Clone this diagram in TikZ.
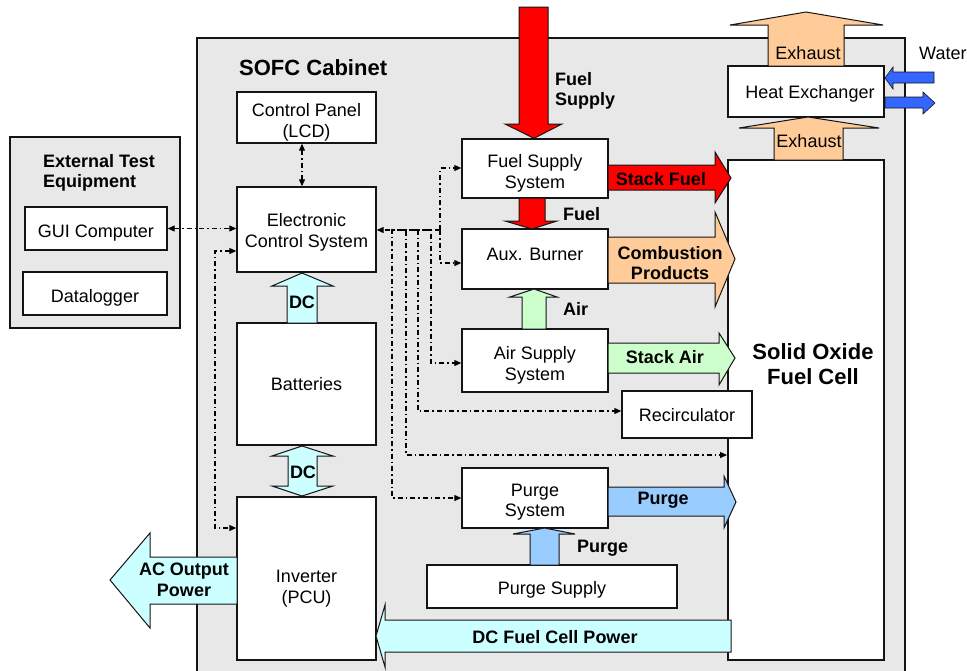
\documentclass[tikz,border=0pt]{standalone}
\usepackage{fontspec}
\setmainfont{Liberation Sans}
\usetikzlibrary{arrows.meta,calc}
\definecolor{cabgray}{RGB}{232,232,232}
\definecolor{fuelred}{RGB}{255,0,0}
\definecolor{peach}{RGB}{255,204,153}
\definecolor{lgreen}{RGB}{204,255,204}
\definecolor{lcyan}{RGB}{204,255,255}
\definecolor{purgeblue}{RGB}{153,204,255}
\definecolor{waterblue}{RGB}{51,102,255}
\definecolor{edge}{RGB}{20,20,20}
% push box text down (\dn) or up (\upby) by the given amount
\newcommand\dn[1]{\rule{0pt}{\dimexpr 13pt + #1 + #1\relax}}
\newcommand\upby[1]{\rule[-\dimexpr #1 + #1\relax]{0pt}{\dimexpr #1 + #1\relax}}
\tikzset{
  box/.style={draw=edge,line width=1.4pt,fill=white,inner sep=0pt,align=center,
    font=\fontsize{18}{20.5}\selectfont},
  panel/.style={draw=edge,line width=2.4pt,fill=cabgray,inner sep=0pt},
  blockarrow/.style={draw=edge,line width=1pt,line join=miter},
  lbl/.style={font=\fontsize{18}{20.5}\selectfont\bfseries,align=center,inner sep=0pt},
  plain/.style={font=\fontsize{18}{20.5}\selectfont,align=center,inner sep=0pt},
  ctrl/.style={draw=black,line width=1.1pt,dash pattern=on 5pt off 3pt on 1.5pt off 3pt,
    -{Triangle[length=7pt,width=6pt]}},
  ctrlboth/.style={ctrl,{Triangle[length=7pt,width=6pt]}-{Triangle[length=7pt,width=6pt]}}
}
\begin{document}
\begin{tikzpicture}[x=1pt,y=-1pt]
\useasboundingbox (0,0) rectangle (967,670);
\clip (0,0) rectangle (967,670);
% panels
\node[panel,minimum width=170pt,minimum height=191pt] (ext) at (95,232.5) {};
\node[panel,minimum width=708pt,minimum height=647pt] (cab) at (551,361.5) {};
\node[lbl,anchor=west,align=left] (extt) at (43,173) {External Test\\Equipment};
\node[lbl,anchor=west,font=\fontsize{22}{24}\selectfont\bfseries] (cabt) at (239,68) {SOFC Cabinet};
% boxes
\node[box,minimum width=142pt,minimum height=43pt] (gui) at (96,228.5) {\dn{4pt}GUI Computer};
\node[box,minimum width=144pt,minimum height=43pt] (dl) at (95,293.5) {\dn{4pt}Datalogger};
\node[box,minimum width=139pt,minimum height=51pt] (cp) at (306.5,117.5) {\dn{5pt}Control Panel\\(LCD)};
\node[box,minimum width=139pt,minimum height=85pt] (ecs) at (306.5,229.5) {\dn{3pt}Electronic\\Control System};
\node[box,minimum width=139pt,minimum height=122pt] (bat) at (306.5,384) {Batteries};
\node[box,minimum width=139pt,minimum height=163pt] (inv) at (306.5,578.5) {\dn{10pt}Inverter\\(PCU)};
\node[box,minimum width=146pt,minimum height=59pt] (fss) at (535,168.5) {\dn{5pt}Fuel Supply\\System};
\node[box,minimum width=146pt,minimum height=60pt] (aux) at (535,259) {\upby{5pt}Aux. Burner};
\node[box,minimum width=146pt,minimum height=63pt] (air) at (535,360.5) {\dn{5pt}Air Supply\\System};
\node[box,minimum width=146pt,minimum height=60pt] (ps) at (535,498) {\dn{4pt}Purge\\System};
\node[box,minimum width=250pt,minimum height=43pt] (psup) at (552,586.5) {\dn{3pt}Purge Supply};
\node[box,line width=2pt,minimum width=156pt,minimum height=500pt] (sofc) at (806,410) {};
\node[lbl,font=\fontsize{22}{25}\selectfont\bfseries] (sofct) at (813,364) {Solid Oxide\\Fuel Cell};
\node[box,minimum width=130pt,minimum height=47pt] (rec) at (687,414.5) {\dn{1pt}Recirculator};
\node[box,minimum width=156pt,minimum height=51pt] (hx) at (806,91.5) {\dn{2pt}\hspace{8pt}Heat Exchanger};
% ---- block arrows
% Fuel supply (top, down)
\draw[blockarrow,fill=fuelred] (519,7) -- (548,7) -- (548,124) -- (562,124) -- (fss.north -| 534,0) -- (505,124) -- (519,124) -- cycle;
\node[lbl,anchor=west,align=left] (fsl) at (555,91) {Fuel\\Supply};
% Fuel small (down)
\draw[blockarrow,fill=fuelred] (519,198) -- (545,198) -- (545,221) -- (557,221) -- (532,229) -- (505,221) -- (519,221) -- cycle;
\node[lbl,anchor=west] (fl) at (563,214) {Fuel};
% Air (up)
\draw[blockarrow,fill=lgreen] (522,329) -- (546,329) -- (546,297) -- (557,297) -- (534,289) -- (510,297) -- (522,297) -- cycle;
\node[lbl,anchor=west] (al) at (563,309) {Air};
% Purge (up)
\draw[blockarrow,fill=purgeblue] (530,565) -- (559,565) -- (559,534) -- (575,534) -- (544.5,528) -- (513,534) -- (530,534) -- cycle;
\node[lbl,anchor=west] (pul) at (577,548) {Purge};
% Stack fuel
\draw[blockarrow,fill=fuelred] (608,165) -- (715,165) -- (715,152) -- (731,178) -- (715,203) -- (715,190) -- (608,190) -- cycle;
\node[lbl] (sfl) at (661,179) {Stack Fuel};
% Combustion products
\draw[blockarrow,fill=peach] (608,237) -- (715,237) -- (715,212) -- (735,259) -- (715,307) -- (715,283) -- (608,283) -- cycle;
\node[lbl] (cpl) at (670,263) {Combustion\\Products};
% Stack air
\draw[blockarrow,fill=lgreen] (608,343) -- (719,343) -- (719,333) -- (735,358) -- (719,385) -- (719,373) -- (608,373) -- cycle;
\node[lbl] (sal) at (665,357) {Stack Air};
% Purge right
\draw[blockarrow,fill=purgeblue] (608,487) -- (724,487) -- (724,476) -- (736,502) -- (724,528) -- (724,516) -- (608,516) -- cycle;
\node[lbl] (prl) at (663,500) {Purge};
% DC fuel cell power
\draw[blockarrow,fill=lcyan] (731,620) -- (385,620) -- (385,605) -- (376,636) -- (385,667) -- (385,652) -- (731,652) -- cycle;
\node[lbl] (dcfl) at (555,637) {DC Fuel Cell Power};
% AC output power
\draw[blockarrow,fill=lcyan] (237,557) -- (150,557) -- (150,533) -- (110,580) -- (150,628) -- (150,604) -- (237,604) -- cycle;
\node[lbl] (acl) at (184,580) {AC Output\\Power};
% DC (ECS <- batteries)
\draw[blockarrow,fill=lcyan] (287,323) -- (317,323) -- (317,286) -- (333,286) -- (302,273) -- (272,286) -- (287,286) -- cycle;
\node[lbl] (dc1) at (302,302) {DC};
% DC double arrow
\draw[blockarrow,fill=lcyan] (302,446) -- (333,456) -- (317,456) -- (317,486) -- (333,486) -- (302,496) -- (272,486) -- (288,486) -- (288,456) -- (272,456) -- cycle;
\node[lbl] (dc2) at (303,472) {DC};
% Exhaust top
\draw[blockarrow,fill=peach] (768,66) -- (768,25) -- (730,25) -- (806,12) -- (883,25) -- (844,25) -- (844,66) -- cycle;
\node[plain] (ex1) at (808,53) {Exhaust};
% Exhaust lower
\draw[blockarrow,fill=peach] (774,160) -- (774,128) -- (739,128) -- (808,117) -- (879,128) -- (843,128) -- (843,160) -- cycle;
\node[plain] (ex2) at (809,141) {Exhaust};
% Water
\draw[blockarrow,fill=waterblue,line width=0.6pt] (934,72) -- (893,72) -- (893,67) -- (885,78) -- (893,89) -- (893,83) -- (934,83) -- cycle;
\draw[blockarrow,fill=waterblue,line width=0.6pt] (885,97) -- (923,97) -- (923,92) -- (935,103) -- (923,114) -- (923,108) -- (885,108) -- cycle;
\node[plain,anchor=west] (wl) at (919,53) {Water};
% ---- control lines
\draw[ctrlboth] (gui.east) -- (ecs.west |- gui.east);
\draw[ctrlboth] (cp.south -| 302,0) -- (ecs.north -| 302,0);
\draw[ctrlboth] (ecs.west |- 0,251) -- (215,251) -- (215,528) -- (inv.west |- 0,528);
\coordinate (j) at (440,230);
\draw[ctrl] (j) -- (ecs.east |- j);
\draw[ctrl] (j) -- (440,168) -- (fss.west |- 0,168);
\draw[ctrl] (j) -- (440,263) -- (aux.west |- 0,263);
\draw[ctrl] (j) -- (431,230) -- (431,363) -- (air.west |- 0,363);
\draw[ctrl] (431,230) -- (418,230) -- (418,411) -- (rec.west |- 0,411);
\draw[ctrl] (418,230) -- (406,230) -- (406,455) -- (sofc.west |- 0,455);
\draw[ctrl] (406,230) -- (392,230) -- (392,498) -- (ps.west |- 0,498);
\end{tikzpicture}
\end{document}
